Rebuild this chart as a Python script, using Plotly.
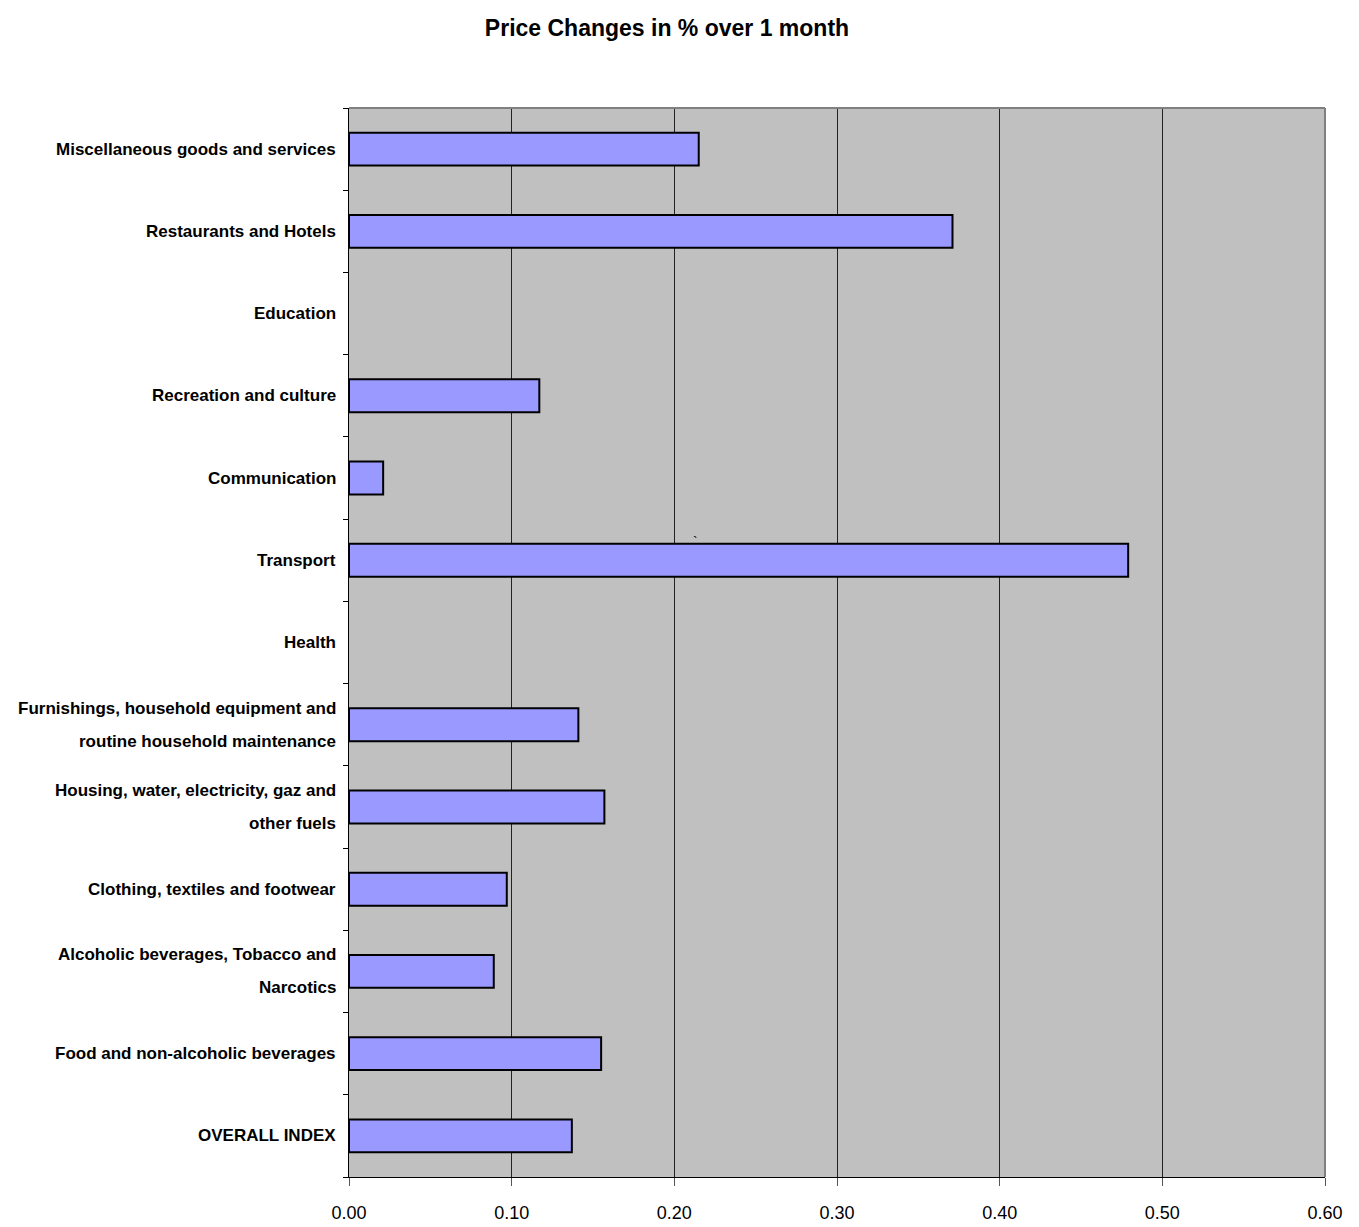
import plotly.graph_objects as go

categories = [
    "OVERALL INDEX",
    "Food and non-alcoholic beverages",
    "Alcoholic beverages, Tobacco and\nNarcotics",
    "Clothing, textiles and footwear",
    "Housing, water, electricity, gaz and\nother fuels",
    "Furnishings, household equipment and\nroutine household maintenance",
    "Health",
    "Transport",
    "Communication",
    "Recreation and culture",
    "Education",
    "Restaurants and Hotels",
    "Miscellaneous goods and services",
]
values = [0.137, 0.155, 0.089, 0.097, 0.157, 0.141, 0.0, 0.479, 0.021, 0.117, 0.0, 0.371, 0.215]
x_ticks = [0.0, 0.1, 0.2, 0.3, 0.4, 0.5, 0.6]
x_tick_labels = ["0.00", "0.10", "0.20", "0.30", "0.40", "0.50", "0.60"]

FONT = "Liberation Sans Narrow, Arial Narrow, Liberation Sans, Arial, sans-serif"

fig = go.Figure()
fig.add_trace(go.Bar(
    x=values,
    y=categories,
    orientation="h",
    width=0.4,
    marker=dict(color="#9999FF",
                line=dict(color="#000000", width=[0 if v == 0 else 2 for v in values])),
    hoverinfo="x+y",
))

annotations = []
line_gap = 33
for cat in categories:
    lines = cat.split("\n")
    n = len(lines)
    for i, line in enumerate(lines):
        annotations.append(dict(
            x=0, xref="paper", y=cat, yref="y",
            text="<b>" + line + "</b>", showarrow=False,
            xanchor="right", yanchor="middle",
            xshift=-11, yshift=(n - 1) / 2 * line_gap - i * line_gap,
            font=dict(family=FONT, size=17, color="#000000"),
        ))
annotations.append(dict(
    x=0.213, xref="x", y=7.22, yref="y", text="`", showarrow=False,
    font=dict(family=FONT, size=14, color="#000000"),
))

fig.update_layout(
    width=1359, height=1227,
    paper_bgcolor="#FFFFFF",
    plot_bgcolor="#C0C0C0",
    margin=dict(l=341, r=42, t=100, b=55),
    showlegend=False,
    title=dict(
        text="<b>Price Changes in % over 1 month</b>",
        x=659 / 1359, xref="container", xanchor="center",
        y=1 - 20 / 1227, yref="container", yanchor="middle",
        font=dict(family=FONT, size=23, color="#000000"),
    ),
    xaxis=dict(
        range=[0, 0.6],
        tickvals=x_ticks, ticktext=x_tick_labels,
        showgrid=True, gridcolor="#222222", gridwidth=1,
        showline=True, linecolor="#000000", linewidth=1,
        ticks="outside", ticklen=8, tickcolor="#555555",
        ticklabelstandoff=11,
        tickfont=dict(family=FONT, size=18, color="#000000"),
        zeroline=False,
        fixedrange=True,
    ),
    yaxis=dict(
        type="category",
        categoryorder="array", categoryarray=categories,
        range=[-0.5, len(categories) - 0.5],
        showticklabels=False,
        tickson="boundaries",
        ticks="outside", ticklen=5, tickcolor="#000000",
        showgrid=False,
        showline=True, linecolor="#000000", linewidth=1,
        fixedrange=True,
    ),
    annotations=annotations,
    shapes=[
        dict(type="line", xref="paper", yref="paper", x0=0, x1=1, y0=1, y1=1,
             line=dict(color="#808080", width=2)),
        dict(type="line", xref="paper", yref="paper", x0=1, x1=1, y0=0, y1=1,
             line=dict(color="#808080", width=2)),
    ],
)

fig.write_html("out.html")
